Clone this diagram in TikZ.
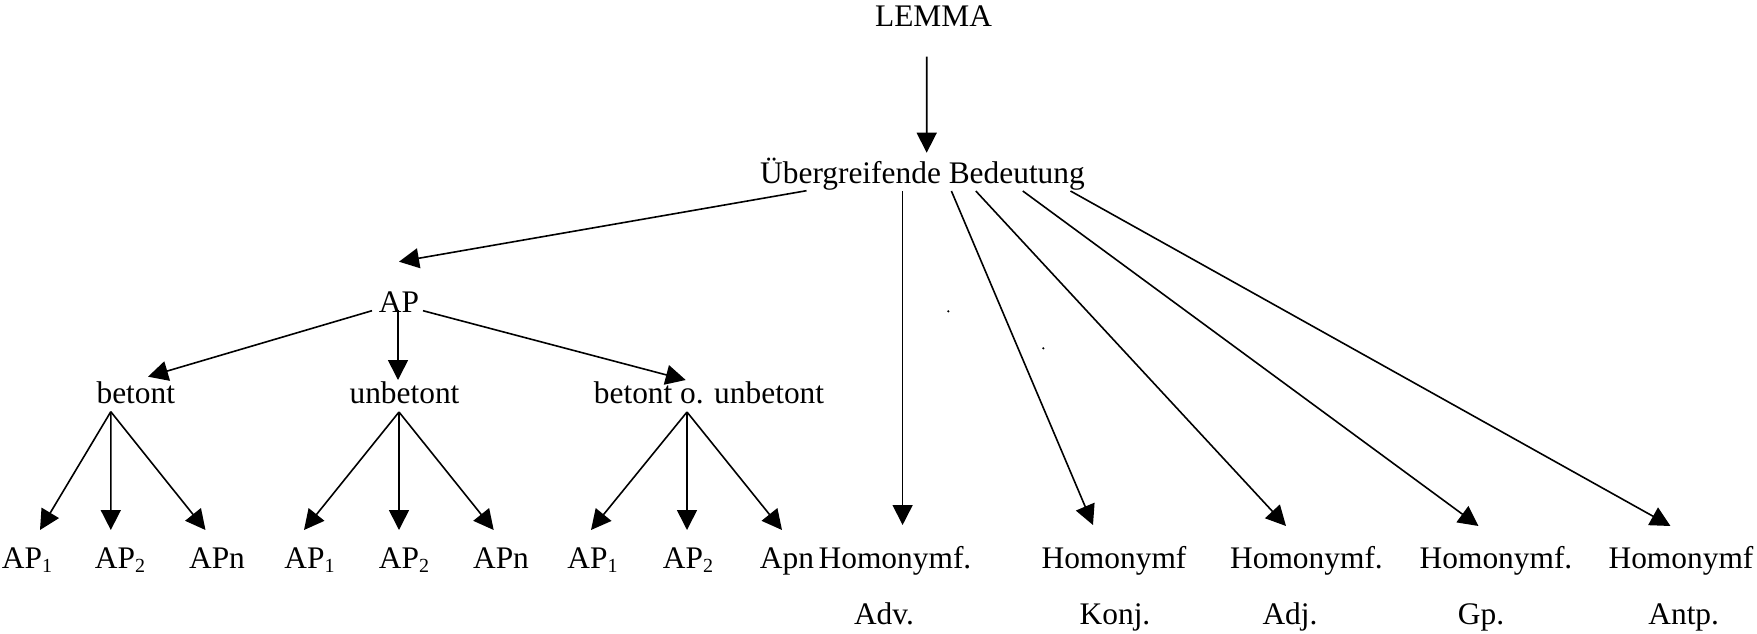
\documentclass[tikz,border=0pt]{standalone}
\usepackage{fontspec}
\setmainfont{Liberation Serif}
\usetikzlibrary{arrows.meta,calc}
% lowered index digit for the AP labels
\newcommand{\lowsub}[1]{\raisebox{-2pt}{\fontsize{10}{10}\selectfont #1}}
\begin{document}
\begin{tikzpicture}[x=0.5pt,y=-0.5pt,
  txt/.style={inner sep=0pt,anchor=base,font=\fontsize{15.7}{18}\selectfont},
  arr/.style={line width=0.8pt,-{Triangle[length=10pt,width=10pt]}}]
\useasboundingbox (0,0) rectangle (1757,633);

% top of the tree
\node[txt] (lemma) at (933.5,26.7) {LEMMA};
\node[txt] (ub) at (922.5,183) {Übergreifende Bedeutung};

% accent branch
\node[txt] (ap)  at (399,312)   {AP};
\node[txt] (bet) at (135.8,403) {betont};
\node[txt] (unb) at (404.5,403) {unbetont};
\node[txt] (bou) at (709,403)   {betont o. unbetont};

\node[txt] (a1) at (27,568)    {AP\lowsub{1}};
\node[txt] (a2) at (120,568)   {AP\lowsub{2}};
\node[txt] (a3) at (217,568)   {APn};
\node[txt] (b1) at (309.5,568) {AP\lowsub{1}};
\node[txt] (b2) at (404,568)   {AP\lowsub{2}};
\node[txt] (b3) at (501,568)   {APn};
\node[txt] (c1) at (592.5,568) {AP\lowsub{1}};
\node[txt] (c2) at (688,568)   {AP\lowsub{2}};
\node[txt] (c3) at (787,568)   {Apn};

% homonym branch
\node[txt] (h1) at (895,568)    {Homonymf.};
\node[txt] (h2) at (1114,568)   {Homonymf};
\node[txt] (h3) at (1306.5,568) {Homonymf.};
\node[txt] (h4) at (1496,568)   {Homonymf.};
\node[txt] (h5) at (1681,568)   {Homonymf};
\node[txt] (p1) at (884,624)    {Adv.};
\node[txt] (p2) at (1115,624)   {Konj.};
\node[txt] (p3) at (1290,624)   {Adj.};
\node[txt] (p4) at (1481,624)   {Gp.};
\node[txt] (p5) at (1683.7,624) {Antp.};

% connectors
\draw[arr] ($(lemma.base)+(-6.8,30)$) -- ($(ub.base)+(4.2,-30.3)$);
\draw[arr] ($(ub.base)+(-116,7.7)$) -- ($(ap.base)+(0,-50.3)$);
\draw[arr] ($(ub.base)+(-19.9,8)$) -- ($(h1.base)+(7.6,-43)$);
\draw[arr] ($(ub.base)+(28.9,8)$)  -- ($(h2.base)+(-21,-43)$);
\draw[arr] ($(ub.base)+(53.3,8)$)  -- ($(h3.base)+(-20.5,-42)$);
\draw[arr] ($(ub.base)+(100.3,8)$) -- ($(h4.base)+(-17.5,-42)$);
\draw[arr] ($(ub.base)+(148,8)$)   -- ($(h5.base)+(-10.5,-42)$);

\draw[arr] ($(ap.base)+(-27,-1.3)$) -- ($(bet.base)+(12.2,-26.3)$);
\draw[arr] ($(ap.base)+(-1,-2)$)    -- ($(unb.base)+(-6.5,-23)$);
\draw[arr] ($(ap.base)+(24,-1.3)$)  -- ($(bou.base)+(-23.3,-23)$);

\draw[arr] ($(bet.base)+(-25,8.7)$) -- ($(a1.base)+(13,-38)$);
\draw[arr] ($(bet.base)+(-25,8.7)$) -- ($(a2.base)+(-9.2,-38)$);
\draw[arr] ($(bet.base)+(-25,8.7)$) -- ($(a3.base)+(-11.5,-38)$);

\draw[arr] ($(unb.base)+(-5.5,9)$) -- ($(b1.base)+(-5.5,-38)$);
\draw[arr] ($(unb.base)+(-5.5,9)$) -- ($(b2.base)+(-5,-38)$);
\draw[arr] ($(unb.base)+(-5.5,9)$) -- ($(b3.base)+(-7.3,-38)$);

\draw[arr] ($(bou.base)+(-22,9)$) -- ($(c1.base)+(-1.5,-38)$);
\draw[arr] ($(bou.base)+(-22,9)$) -- ($(c2.base)+(-1,-38)$);
\draw[arr] ($(bou.base)+(-22,9)$) -- ($(c3.base)+(-5,-38)$);

% two stray dots
\fill (948.3,311.3) circle (1.2);
\fill (1043.3,348.3) circle (1.2);
\end{tikzpicture}
\end{document}
